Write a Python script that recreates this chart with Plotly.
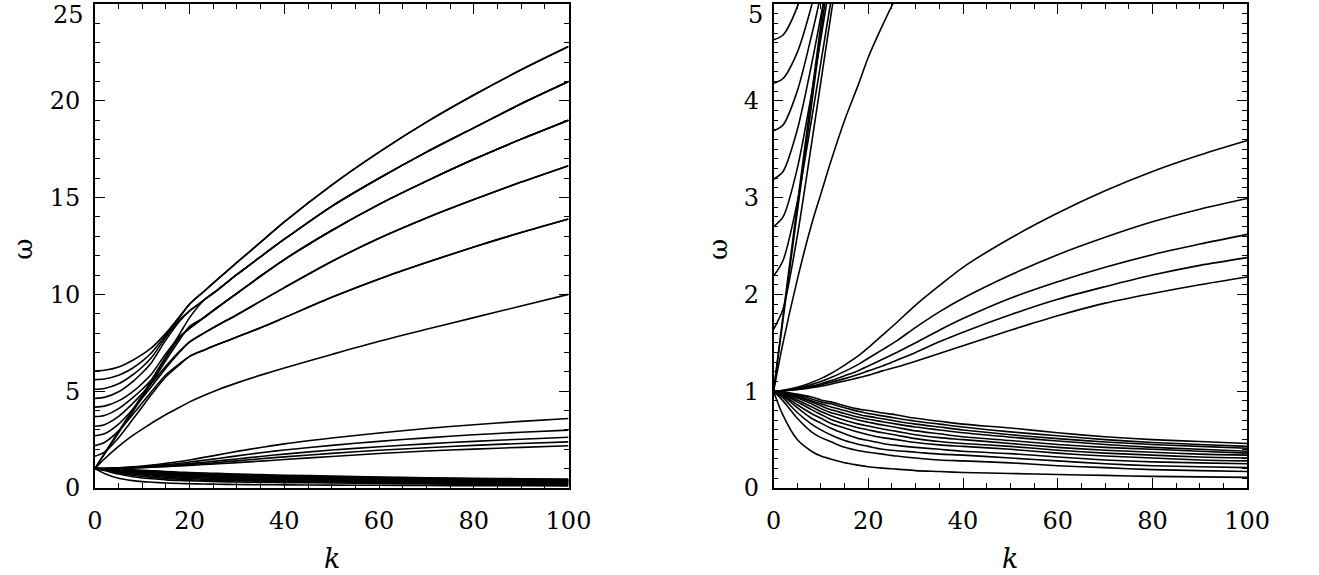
import plotly.graph_objects as go

K = [0, 2, 5, 8, 10, 12, 15, 18, 20, 23, 26, 30, 35, 40, 50, 60, 70, 80, 90, 100]

# upper branch curves (omega vs K)
upper = [
    [6.05, 6.08, 6.25, 6.6, 6.9, 7.25, 8.0, 8.9, 9.5, 10.15, 10.8, 11.65, 12.7, 13.75, 15.65, 17.35, 18.9, 20.3, 21.6, 22.8],
    [5.6, 5.63, 5.82, 6.2, 6.55, 7.0, 7.9, 8.85, 9.5, 10.15, 10.8, 11.65, 12.7, 13.75, 15.65, 17.35, 18.9, 20.3, 21.6, 22.8],
    [5.1, 5.14, 5.38, 5.85, 6.25, 6.75, 7.8, 8.7, 9.15, 9.7, 10.25, 11.03, 11.95, 12.85, 14.55, 16.0, 17.35, 18.6, 19.85, 21.0],
    [4.63, 4.68, 4.97, 5.5, 5.95, 6.5, 7.65, 8.65, 9.15, 9.7, 10.25, 11.03, 11.95, 12.85, 14.55, 16.0, 17.35, 18.6, 19.85, 21.0],
    [4.18, 4.23, 4.5, 4.98, 5.4, 5.9, 6.95, 7.85, 8.25, 8.8, 9.35, 10.05, 10.95, 11.8, 13.3, 14.65, 15.85, 16.98, 18.02, 19.0],
    [3.69, 3.75, 4.1, 4.67, 5.1, 5.6, 6.75, 7.8, 8.25, 8.8, 9.35, 10.05, 10.95, 11.8, 13.3, 14.65, 15.85, 16.98, 18.02, 19.0],
    [3.19, 3.27, 3.7, 4.37, 4.88, 5.42, 6.3, 7.1, 7.55, 8.0, 8.42, 8.95, 9.65, 10.35, 11.7, 12.9, 13.95, 14.9, 15.8, 16.65],
    [2.70, 2.8, 3.3, 4.07, 4.65, 5.25, 6.2, 7.05, 7.55, 8.0, 8.42, 8.95, 9.65, 10.35, 11.7, 12.9, 13.95, 14.9, 15.8, 16.65],
    [2.19, 2.35, 2.95, 3.8, 4.4, 5.0, 5.85, 6.45, 6.8, 7.12, 7.42, 7.8, 8.28, 8.8, 9.85, 10.8, 11.65, 12.45, 13.2, 13.9],
    [1.64, 1.85, 2.6, 3.55, 4.2, 4.85, 5.75, 6.4, 6.8, 7.12, 7.42, 7.8, 8.28, 8.8, 9.85, 10.8, 11.65, 12.45, 13.2, 13.9],
    [1.0, 1.78, 2.92, 4.05, 4.8, 5.6, 6.8, 8.0, 8.8, 9.7, 10.25, 11.03, 11.95, 12.85, 14.55, 16.0, 17.35, 18.6, 19.85, 21.0],
    [1.0, 1.74, 2.85, 3.95, 4.7, 5.45, 6.6, 7.7, 8.35, 8.8, 9.35, 10.05, 10.95, 11.8, 13.3, 14.65, 15.85, 16.98, 18.02, 19.0],
    [1.0, 1.5, 2.15, 2.72, 3.04, 3.36, 3.8, 4.18, 4.45, 4.78, 5.08, 5.43, 5.83, 6.2, 6.9, 7.58, 8.2, 8.8, 9.4, 10.0],
]

# middle branch curves
middle = [
    [1.0, 1.01, 1.04, 1.09, 1.13, 1.18, 1.27, 1.37, 1.45, 1.58, 1.71, 1.89, 2.09, 2.28, 2.58, 2.84, 3.07, 3.27, 3.44, 3.59],
    [1.0, 1.008, 1.031, 1.069, 1.1, 1.138, 1.205, 1.28, 1.34, 1.43, 1.52, 1.66, 1.82, 1.96, 2.2, 2.41, 2.59, 2.75, 2.88, 2.99],
    [1.0, 1.006, 1.024, 1.054, 1.078, 1.107, 1.16, 1.215, 1.26, 1.33, 1.4, 1.5, 1.63, 1.75, 1.96, 2.13, 2.28, 2.41, 2.52, 2.62],
    [1.0, 1.005, 1.02, 1.045, 1.065, 1.09, 1.13, 1.175, 1.21, 1.26, 1.32, 1.4, 1.51, 1.61, 1.79, 1.95, 2.08, 2.2, 2.3, 2.38],
    [1.0, 1.004, 1.016, 1.036, 1.052, 1.072, 1.105, 1.14, 1.165, 1.21, 1.25, 1.31, 1.39, 1.47, 1.63, 1.78, 1.91, 2.01, 2.1, 2.18],
]

# lower branch curves
lower = [
    [1.0, 0.995, 0.97, 0.94, 0.91, 0.89, 0.85, 0.815, 0.8, 0.775, 0.755, 0.72, 0.69, 0.66, 0.62, 0.57, 0.53, 0.5, 0.48, 0.46],
    [1.0, 0.99, 0.96, 0.92, 0.89, 0.87, 0.83, 0.79, 0.77, 0.745, 0.72, 0.69, 0.66, 0.63, 0.58, 0.54, 0.5, 0.47, 0.45, 0.43],
    [1.0, 0.99, 0.95, 0.9, 0.87, 0.84, 0.8, 0.76, 0.74, 0.715, 0.69, 0.66, 0.63, 0.6, 0.55, 0.51, 0.475, 0.45, 0.43, 0.41],
    [1.0, 0.985, 0.94, 0.89, 0.85, 0.81, 0.77, 0.73, 0.71, 0.685, 0.66, 0.63, 0.6, 0.57, 0.525, 0.485, 0.45, 0.42, 0.4, 0.38],
    [1.0, 0.98, 0.93, 0.87, 0.82, 0.78, 0.74, 0.7, 0.68, 0.65, 0.625, 0.59, 0.56, 0.53, 0.49, 0.45, 0.42, 0.4, 0.38, 0.36],
    [1.0, 0.975, 0.91, 0.84, 0.79, 0.75, 0.7, 0.66, 0.64, 0.61, 0.585, 0.55, 0.52, 0.5, 0.46, 0.42, 0.39, 0.37, 0.35, 0.34],
    [1.0, 0.97, 0.89, 0.81, 0.76, 0.71, 0.66, 0.62, 0.6, 0.57, 0.545, 0.51, 0.48, 0.46, 0.43, 0.39, 0.36, 0.34, 0.32, 0.31],
    [1.0, 0.96, 0.86, 0.77, 0.72, 0.67, 0.62, 0.575, 0.55, 0.52, 0.5, 0.47, 0.445, 0.43, 0.4, 0.36, 0.33, 0.31, 0.29, 0.28],
    [1.0, 0.95, 0.83, 0.72, 0.67, 0.62, 0.56, 0.51, 0.49, 0.46, 0.44, 0.42, 0.4, 0.38, 0.355, 0.32, 0.29, 0.27, 0.26, 0.25],
    [1.0, 0.93, 0.78, 0.66, 0.6, 0.55, 0.49, 0.45, 0.43, 0.4, 0.385, 0.37, 0.35, 0.34, 0.31, 0.28, 0.25, 0.23, 0.22, 0.21],
    [1.0, 0.9, 0.72, 0.58, 0.52, 0.48, 0.42, 0.385, 0.37, 0.35, 0.33, 0.31, 0.29, 0.28, 0.26, 0.23, 0.21, 0.19, 0.18, 0.17],
    [1.0, 0.75, 0.5, 0.38, 0.33, 0.3, 0.26, 0.235, 0.22, 0.205, 0.195, 0.18, 0.17, 0.16, 0.15, 0.14, 0.13, 0.12, 0.115, 0.11],
]

x_ticks = [0, 20, 40, 60, 80, 100]
y_ticks_left = [0, 5, 10, 15, 20, 25]
y_ticks_right = [0, 1, 2, 3, 4, 5]

fig = go.Figure()
for xa, ya in (("x", "y"), ("x2", "y2")):
    for curve in upper + middle + lower:
        fig.add_trace(go.Scatter(
            x=K, y=curve, xaxis=xa, yaxis=ya, mode="lines",
            line=dict(color="black", width=1.6, shape="spline", smoothing=0.8),
            showlegend=False, hoverinfo="skip", cliponaxis=True,
        ))

tickfont = dict(family="DejaVu Serif", size=24, color="black")
common_x = dict(
    range=[0, 100], tickvals=x_ticks, ticks="inside", ticklen=10, tickwidth=1.3,
    tickcolor="black", showline=True, linecolor="black", linewidth=1.6, mirror="ticks",
    showgrid=False, zeroline=False, tickfont=tickfont, ticklabelstandoff=10,
    minor=dict(dtick=5, ticks="inside", ticklen=5, tickwidth=1.2, tickcolor="black", showgrid=False),
)
common_y = dict(
    ticks="inside", ticklen=10, tickwidth=1.3, tickcolor="black", showline=True,
    linecolor="black", linewidth=1.6, mirror="ticks", showgrid=False, zeroline=False,
    tickfont=tickfont, ticklabelstandoff=8,
)

fig.update_layout(
    width=1319, height=575, margin=dict(l=0, r=0, t=4, b=87),
    plot_bgcolor="white", paper_bgcolor="white", showlegend=False,
    xaxis=dict(domain=[89 / 1319, 574 / 1319], anchor="y", **common_x),
    xaxis2=dict(domain=[784 / 1319, 1269 / 1319], anchor="y2", **common_x),
    yaxis=dict(domain=[0, 1], anchor="x", range=[0, 25], tickvals=y_ticks_left[:-1],
               minor=dict(dtick=1, ticks="inside", ticklen=5, tickwidth=1.2, tickcolor="black", showgrid=False),
               **common_y),
    yaxis2=dict(domain=[0, 1], anchor="x2", range=[0, 5], tickvals=y_ticks_right[:-1],
                minor=dict(dtick=0.1, ticks="inside", ticklen=5, tickwidth=1.2, tickcolor="black", showgrid=False),
                **common_y),
)

# top tick labels (the page edge would clip them, so they sit just below the top tick)
fig.add_annotation(text=str(y_ticks_left[-1]), xref="x", yref="y", x=0, y=y_ticks_left[-1],
                   xanchor="right", yanchor="top", xshift=-9, yshift=5, showarrow=False, font=tickfont)
fig.add_annotation(text=str(y_ticks_right[-1]), xref="x2", yref="y2", x=0, y=y_ticks_right[-1],
                   xanchor="right", yanchor="top", xshift=-9, yshift=5, showarrow=False, font=tickfont)

title_font = dict(family="DejaVu Serif", size=26, color="black")
k_font = dict(family="DejaVu Serif", size=27, color="black")
fig.add_annotation(text="<i>k</i>", xref="paper", yref="paper", x=331.5 / 1319, y=-70 / 484,
                   showarrow=False, font=k_font, xanchor="center", yanchor="middle")
fig.add_annotation(text="<i>k</i>", xref="paper", yref="paper", x=1026.5 / 1319, y=-70 / 484,
                   showarrow=False, font=k_font, xanchor="center", yanchor="middle")
fig.add_annotation(text="ω", xref="paper", yref="paper", x=15 / 1319, y=0.5 - 3 / 484,
                   showarrow=False, font=title_font, textangle=-90, xanchor="center", yanchor="middle")
fig.add_annotation(text="ω", xref="paper", yref="paper", x=727 / 1319, y=0.5 - 3 / 484,
                   showarrow=False, font=title_font, textangle=-90, xanchor="center", yanchor="middle")

fig.write_html("out.html")
